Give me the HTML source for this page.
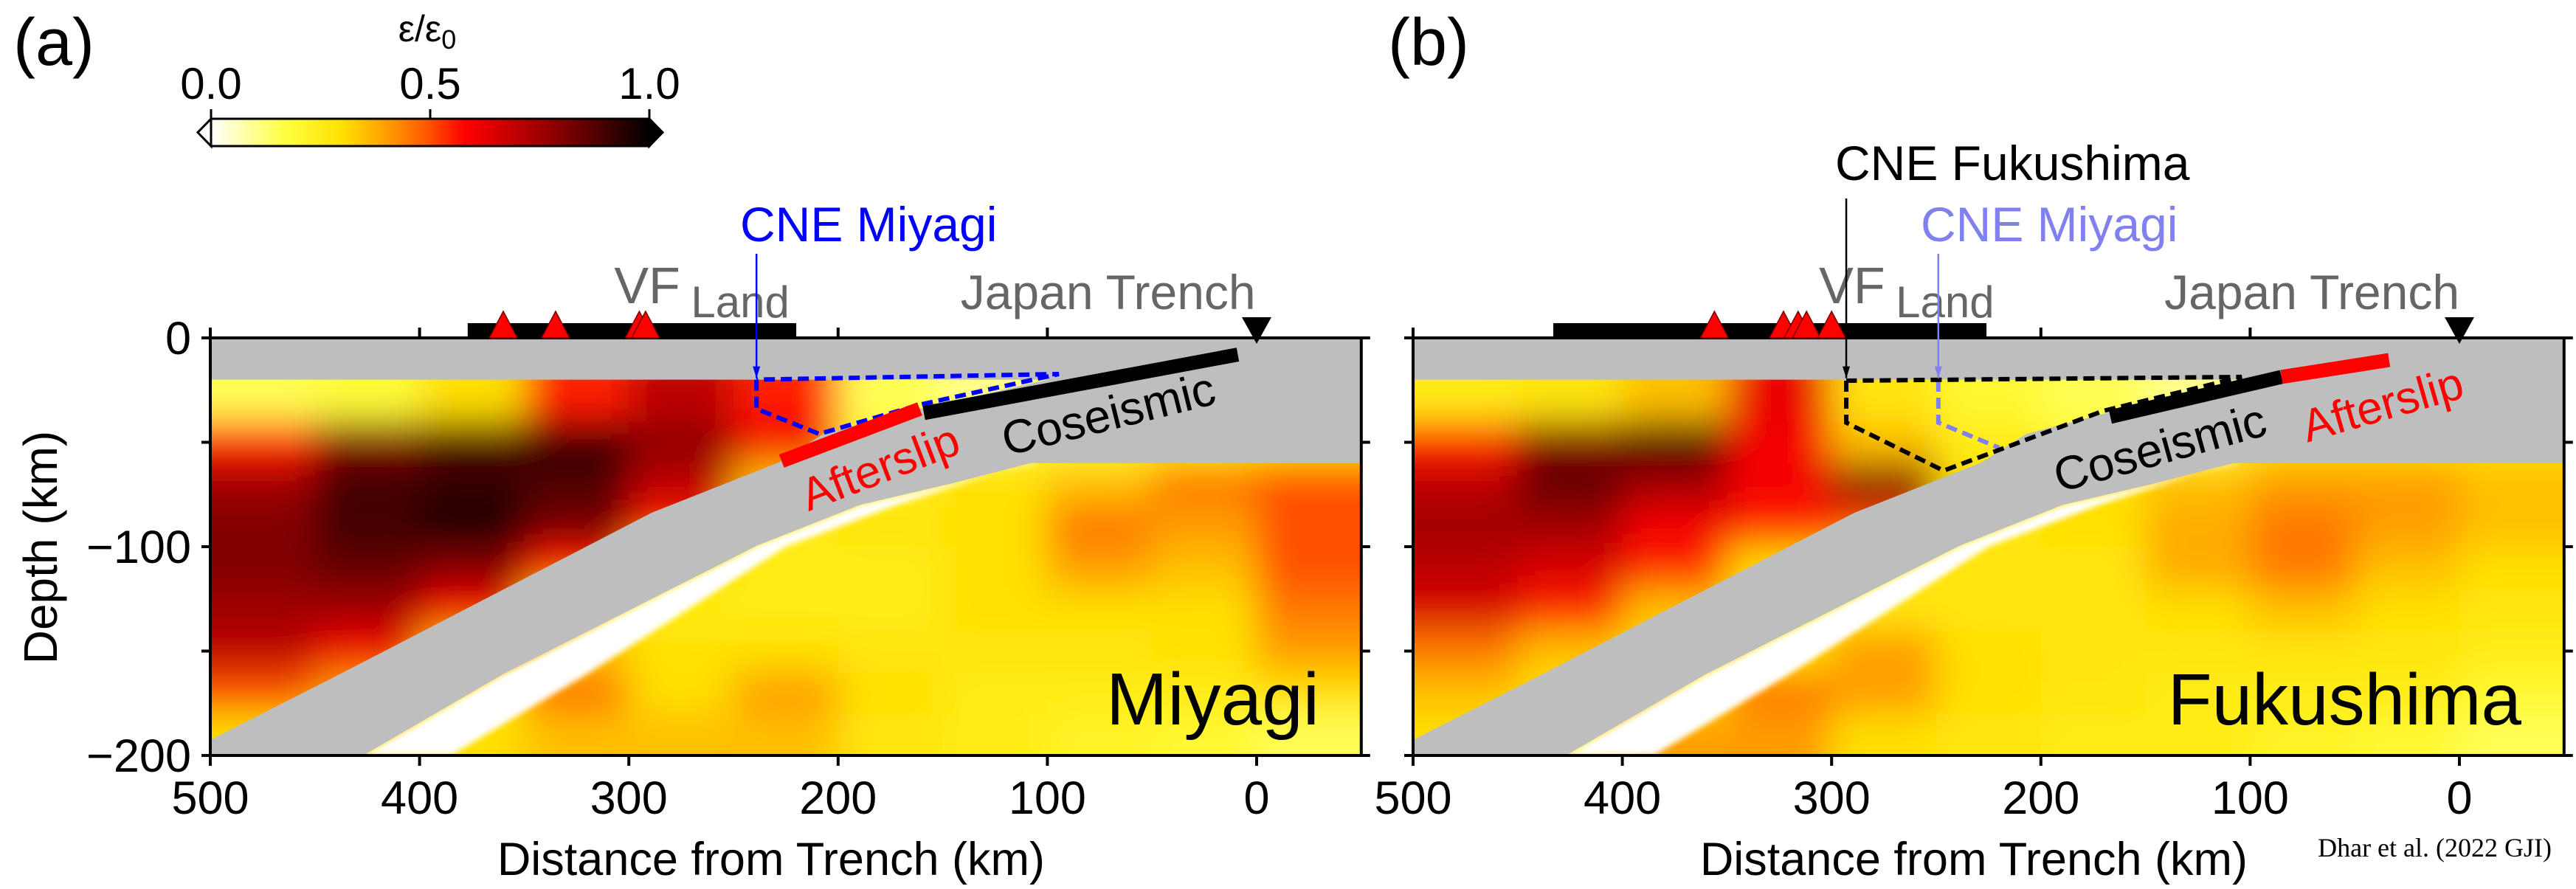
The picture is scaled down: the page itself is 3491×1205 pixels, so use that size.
<!DOCTYPE html>
<html><head><meta charset="utf-8">
<style>
html,body{margin:0;padding:0;background:#fff;}
svg{display:block;font-family:"Liberation Sans",sans-serif;}
</style></head>
<body>
<svg id="fig" width="3491" height="1205" viewBox="0 0 3491 1205" xmlns="http://www.w3.org/2000/svg">
<defs>
<linearGradient id="cbgrad" x1="0" x2="1" y1="0" y2="0">
<stop offset="0" stop-color="#ffffff"/><stop offset="0.17" stop-color="#ffff40"/><stop offset="0.3" stop-color="#ffe000"/><stop offset="0.42" stop-color="#ff9000"/><stop offset="0.5" stop-color="#ff5000"/><stop offset="0.58" stop-color="#ff0000"/><stop offset="0.75" stop-color="#a00000"/><stop offset="0.88" stop-color="#500000"/><stop offset="1" stop-color="#000000"/>
</linearGradient>
<filter id="blur" x="-20%" y="-20%" width="140%" height="140%"><feGaussianBlur stdDeviation="26"/></filter>
<filter id="blurw" x="-20%" y="-20%" width="140%" height="140%"><feGaussianBlur stdDeviation="4"/></filter>
<clipPath id="clipA"><rect x="285" y="458" width="1560" height="566"/></clipPath>
<clipPath id="clipB"><rect x="1915" y="458" width="1560" height="566"/></clipPath>
<marker id="arrK" markerWidth="10" markerHeight="16" refX="5" refY="16" markerUnits="userSpaceOnUse" viewBox="0 0 10 16"><path d="M0,0 L10,0 L5,16 Z" fill="#000"/></marker>
<marker id="arrB" markerWidth="10" markerHeight="16" refX="5" refY="16" markerUnits="userSpaceOnUse" viewBox="0 0 10 16"><path d="M0,0 L10,0 L5,16 Z" fill="#0000ff"/></marker>
<marker id="arrL" markerWidth="10" markerHeight="16" refX="5" refY="16" markerUnits="userSpaceOnUse" viewBox="0 0 10 16"><path d="M0,0 L10,0 L5,16 Z" fill="#8080ee"/></marker>
</defs>

<g>
<text x="579" y="56" font-size="50" text-anchor="middle">ε/ε<tspan font-size="36" dy="10">0</tspan></text>
<rect x="286" y="161" width="594" height="37" fill="url(#cbgrad)" stroke="#000" stroke-width="3"/>
<path d="M286,161 L268,179.5 L286,198 Z" fill="#fff" stroke="#000" stroke-width="3"/>
<path d="M880,161 L898,179.5 L880,198 Z" fill="#000" stroke="#000" stroke-width="3"/>
<line x1="583" y1="161" x2="583" y2="148" stroke="#000" stroke-width="3"/>
<line x1="286" y1="161" x2="286" y2="148" stroke="#000" stroke-width="3"/>
<line x1="880" y1="161" x2="880" y2="148" stroke="#000" stroke-width="3"/>
<text x="286" y="134" font-size="60" text-anchor="middle">0.0</text>
<text x="583" y="134" font-size="60" text-anchor="middle">0.5</text>
<text x="880" y="134" font-size="60" text-anchor="middle">1.0</text>
</g>
<text x="18" y="88" font-size="90">(a)</text>
<text x="1881" y="88" font-size="90">(b)</text>
<text x="55" y="742" font-size="64" text-anchor="middle" dominant-baseline="central" transform="rotate(-90 55 742)">Depth (km)</text>
<text x="3458" y="1161" font-size="36" text-anchor="end" font-family="Liberation Serif, serif">Dhar et al. (2022 GJI)</text>
<g id="panels"></g>
</svg>
<script>
const colDist=[475,425,375,325,275,225,175,125,75,25,-25];
const rowDepth=[30,50,70,90,110,130,150,170,190];
const gridA=[
[0.15,0.18,0.3,0.55,0.7,0.55,0.15,0.1,0.2,0.2,0.25],
[0.55,0.8,0.88,0.92,0.78,0.6,0.2,0.2,0.2,0.25,0.3],
[0.75,0.9,0.92,0.88,0.7,0.35,0.25,0.3,0.35,0.45,0.5],
[0.8,0.9,0.97,0.82,0.55,0.25,0.28,0.3,0.45,0.4,0.5],
[0.8,0.85,0.8,0.55,0.3,0.25,0.25,0.3,0.4,0.35,0.5],
[0.75,0.75,0.6,0.3,0.25,0.25,0.25,0.3,0.3,0.3,0.45],
[0.7,0.6,0.35,0.35,0.3,0.3,0.28,0.28,0.28,0.3,0.4],
[0.5,0.4,0.3,0.45,0.3,0.4,0.3,0.25,0.25,0.25,0.3],
[0.3,0.3,0.3,0.35,0.35,0.35,0.28,0.25,0.22,0.2,0.15]];
const gridB=[
[0.25,0.28,0.35,0.62,0.28,0.2,0.15,0.1,0.2,0.2,0.25],
[0.55,0.8,0.9,0.6,0.35,0.25,0.2,0.2,0.3,0.3,0.3],
[0.7,0.85,0.75,0.6,0.8,0.3,0.3,0.35,0.4,0.4,0.35],
[0.75,0.75,0.6,0.55,0.5,0.28,0.3,0.38,0.45,0.4,0.35],
[0.7,0.65,0.55,0.3,0.28,0.28,0.28,0.38,0.45,0.35,0.3],
[0.65,0.55,0.35,0.3,0.28,0.28,0.28,0.3,0.35,0.3,0.28],
[0.45,0.35,0.3,0.3,0.4,0.3,0.28,0.28,0.28,0.28,0.25],
[0.35,0.3,0.3,0.45,0.4,0.3,0.28,0.25,0.25,0.25,0.2],
[0.3,0.28,0.4,0.4,0.3,0.28,0.25,0.25,0.22,0.2,0.15]];
const xTicks=[500,400,300,200,100,0];
const yTicks=[0,-100,-200];
const slabTop=[[500,192.6],[438,161],[289,83.7],[228.5,59.7],[207,46],[161,34],[100,20]];
const slabBottom=[[108,60],[147,70],[189.6,80],[239,99.6],[360,161],[427,200]];
const whiteEdge=[[385,200],[320,161],[225,100],[172,80],[126,65],[104,60]];
const volcA=[360,335,295,292];
const volcB=[356,323,316,312,300];
const landA=[377,220];
const landB=[433,226];
const cneMiyagiA=[[239,20],[239,34],[209,46],[161,32],[94.5,17.3],[239,20]];
const cneFukB=[[293,20.5],[293,40.6],[246.5,63.6],[170.3,35],[104,18.7],[293,20.5]];
const cneMiyagiB=[[249,20.5],[249,40.6],[220,52.6]];
const afterA=[[227,59],[161,34]];
const coseA=[[159,36],[9,8]];
const coseB=[[166.8,37.8],[85,18.7]];
const afterB=[[85,18.7],[33.6,10.6]];

const NS='http://www.w3.org/2000/svg';
const stops=[[0,[255,255,255]],[0.17,[255,255,64]],[0.3,[255,224,0]],[0.42,[255,144,0]],[0.5,[255,80,0]],[0.58,[255,0,0]],[0.75,[160,0,0]],[0.88,[80,0,0]],[1,[0,0,0]]];
function cmap(v){for(let i=1;i<stops.length;i++){if(v<=stops[i][0]){const a=stops[i-1],b=stops[i];const t=(v-a[0])/(b[0]-a[0]);return 'rgb('+a[1].map((c,k)=>Math.round(c+(b[1][k]-c)*t)).join(',')+')';}}return '#000';}
function mk(tag,attrs,parent){const e=document.createElementNS(NS,tag);for(const k in attrs)e.setAttribute(k,attrs[k]);parent.appendChild(e);return e;}

function panel(ox,grid,cfg){
  const X=d=>ox+(500-d)*2.836, Y=z=>458+z*2.83;
  const root=document.getElementById('panels');
  const g=mk('g',{},root);
  
  
  const clip=mk('g',{'clip-path':'url(#'+cfg.clip+')'},g);
  mk('rect',{x:X(500),y:Y(0),width:X(-50)-X(500),height:Y(200)-Y(0),fill:cmap(0.28)},clip);
  const hm=mk('g',{filter:'url(#blur)'},clip);
  
  
  rowDepth.forEach((z,r)=>{colDist.forEach((d,c)=>{
    let x0=X(d+25),x1=X(d-25),y0=Y(z-10),y1=Y(z+10);
    if(c===0)x0-=120; if(c===colDist.length-1)x1+=120;
    if(r===0)y0-=40; if(r===rowDepth.length-1)y1+=120;
    const cell=mk('rect',{x:x0,y:y0,width:x1-x0+1,height:y1-y0+1,fill:cmap(grid[r][c])},hm);
    
    
  });});
  const wpts=slabBottom.concat(whiteEdge).map(p=>X(p[0])+','+Y(p[1])).join(' ');
  const wb=mk('polygon',{points:wpts,fill:'#fff',filter:'url(#blurw)'},clip);
  
  
  let pts=[[500,0],[-50,0],[-50,60]].concat(slabBottom).concat([[500,200]]).concat(slabTop).concat([[500,20]]);
  const gp=mk('polygon',{points:pts.map(p=>X(p[0])+','+Y(p[1])).join(' '),fill:'#bebebe'},clip);
  
  
  const line=(arr,attrs,name)=>{const p=mk('polyline',Object.assign({points:arr.map(p=>X(p[0])+','+Y(p[1])).join(' '),fill:'none'},attrs),g);return p;};
  cfg.dashed.forEach(dl=>line(dl.pts,{stroke:dl.color,'stroke-width':6,'stroke-dasharray':'15 8'},dl.name));
  cfg.segs.forEach(s=>line(s.pts,{stroke:s.color,'stroke-width':19},s.name));
  const fr=mk('rect',{x:X(500),y:Y(0),width:X(-50)-X(500),height:Y(200)-Y(0),fill:'none',stroke:'#000','stroke-width':4},g);
  
  
  xTicks.forEach(d=>{
    mk('line',{x1:X(d),x2:X(d),y1:Y(200),y2:Y(200)+14,stroke:'#000','stroke-width':4},g);
    mk('line',{x1:X(d),x2:X(d),y1:Y(0),y2:Y(0)-14,stroke:'#000','stroke-width':4},g);
    const t=mk('text',{x:X(d),y:1103,'font-size':63,'text-anchor':'middle'},g);t.textContent=d;
    
    
  });
  [0,50,100,150,200].forEach(z=>{
    mk('line',{x1:X(500),x2:X(500)-12,y1:Y(z),y2:Y(z),stroke:'#000','stroke-width':4},g);
    mk('line',{x1:X(-50),x2:X(-50)+12,y1:Y(z),y2:Y(z),stroke:'#000','stroke-width':4},g);
  });
  if(cfg.ylabels){yTicks.forEach(v=>{const t=mk('text',{x:X(500)-26,y:Y(-v)+22,'font-size':63,'text-anchor':'end'},g);t.textContent=(v<0?'\u2212':'')+Math.abs(v);
    
    });}
  const xt=mk('text',{x:(X(500)+X(-50))/2-20,y:1186,'font-size':63,'text-anchor':'middle'},g);xt.textContent='Distance from Trench (km)';
  
  
  const lb=mk('rect',{x:X(cfg.land[0]),y:438,width:X(cfg.land[1])-X(cfg.land[0]),height:20,fill:'#000'},g);
  
  
  cfg.volc.forEach(d=>{const v=mk('path',{d:`M${X(d)-19},458 L${X(d)},422 L${X(d)+19},458 Z`,fill:'#ff0000',stroke:'#700','stroke-width':1.5},g);
    
    });
  const tr=mk('path',{d:`M${X(0)-20},430 L${X(0)+20},430 L${X(0)},466 Z`,fill:'#000'},g);
  
  
  const txt=(s,x,y,size,fill,name,rot)=>{const t=mk('text',{x:x,y:y,'font-size':size,fill:fill},g);t.textContent=s;if(rot!==undefined){t.setAttribute('text-anchor','middle');t.setAttribute('dominant-baseline','central');t.setAttribute('transform',`rotate(${rot} ${x} ${y})`);}return t;};
  txt('VF',X(cfg.vf),411,70,'#666','vf-label');
  txt('Land',X(cfg.vf)+104,430,60,'#666','land-label');
  txt('Japan Trench',X(cfg.jt),419,66,'#666','japan-trench-label');
  cfg.arrows.forEach(a=>{
    mk('line',{x1:X(a.d),x2:X(a.d),y1:a.y0,y2:Y(20)-2,stroke:a.color,'stroke-width':2.5,'marker-end':'url(#'+a.marker+')'},g);
    txt(a.text,a.tx,a.ty,66,a.color,a.name);
  });
  cfg.labels.forEach(l=>txt(l.t,l.x,l.y,l.s,l.c,l.name,l.r));
  const big=mk('text',{x:cfg.bigX,y:982,'font-size':cfg.bigS,'text-anchor':'end'},g);big.textContent=cfg.big;
  
  
}
panel(285,gridA,{name:'panel-a-miyagi',clip:'clipA',ylabels:true,land:landA,volc:volcA,vf:307,jt:141.5,
  dashed:[{pts:cneMiyagiA,color:'#0000ff',name:'cne-miyagi-outline'}],
  segs:[{pts:afterA,color:'#ff0000',name:'afterslip-segment'},{pts:coseA,color:'#000',name:'coseismic-segment'}],
  arrows:[{d:239,y0:344,color:'#0000ff',marker:'arrB',text:'CNE Miyagi',tx:1003,ty:327,name:'cne-miyagi-label'}],
  labels:[{t:'Afterslip',x:1193,y:634,s:62,c:'#ff0000',r:-21,name:'afterslip-label'},{t:'Coseismic',x:1502,y:561,s:64,c:'#000',r:-14,name:'coseismic-label'}],
  big:'Miyagi',bigX:1788,bigS:100});
panel(1915,gridB,{name:'panel-b-fukushima',clip:'clipB',ylabels:false,land:landB,volc:volcB,vf:306,jt:141,
  dashed:[{pts:cneMiyagiB,color:'#8080ee',name:'cne-miyagi-outline'},{pts:cneFukB,color:'#000',name:'cne-fukushima-outline'}],
  segs:[{pts:coseB,color:'#000',name:'coseismic-segment'},{pts:afterB,color:'#ff0000',name:'afterslip-segment'}],
  arrows:[{d:293,y0:269,color:'#000',marker:'arrK',text:'CNE Fukushima',tx:2487,ty:244,name:'cne-fukushima-label'},{d:249,y0:344,color:'#8080ee',marker:'arrL',text:'CNE Miyagi',tx:2603,ty:327,name:'cne-miyagi-label'}],
  labels:[{t:'Coseismic',x:2927,y:607,s:64,c:'#000',r:-15.5,name:'coseismic-label'},{t:'Afterslip',x:3229,y:549,s:62,c:'#ff0000',r:-16,name:'afterslip-label'}],
  big:'Fukushima',bigX:3417,bigS:98});
</script>
</body></html>
